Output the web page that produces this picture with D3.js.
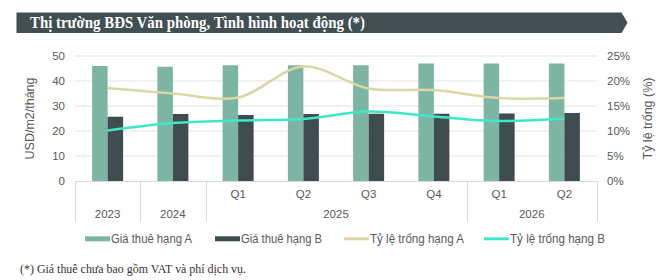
<!DOCTYPE html>
<html><head><meta charset="utf-8">
<script src="https://cdn.jsdelivr.net/npm/d3@7"></script>
<style>body{margin:0;background:#fff}svg{display:block}</style>
</head><body>
<svg id="c" width="669" height="280"></svg>
<script>
const quarters = ["", "", "Q1", "Q2", "Q3", "Q4", "Q1", "Q2"];
const years = [{label:"2023", from:0, to:0},{label:"2024", from:1, to:1},{label:"2025", from:2, to:5},{label:"2026", from:6, to:7}];
const rentA = [46.0, 45.7, 46.3, 46.3, 46.3, 47.0, 47.0, 47.0];
const rentB = [25.7, 26.8, 26.4, 26.8, 26.9, 26.9, 27.0, 27.2];
const vacA = [18.6, 17.5, 16.7, 22.9, 18.5, 18.2, 16.6, 16.6];
const vacB = [10.1, 11.6, 12.1, 12.4, 13.9, 12.9, 12.0, 12.5];
const leftTicks = [0,10,20,30,40,50];
const rightTicks = [0,5,10,15,20,25];
const seriesNames = ["Giá thuê hạng A","Giá thuê hạng B","Tỷ lệ trống hạng A","Tỷ lệ trống hạng B"];
const colors = {A:"#7db5a4", B:"#3f4d50", lA:"#dcd6a4", lB:"#3de8c8"};

const svg = d3.select("#c");
const M = {l:75, r:597, t:56, b:181};
const idx = d3.range(quarters.length);
const x = d3.scaleBand().domain(idx).range([M.l, M.r]).paddingInner(0).paddingOuter(0);
const yL = d3.scaleLinear().domain([0,50]).range([M.b, M.t]);
const yR = d3.scaleLinear().domain([0,25]).range([M.b, M.t]);
const axisFont = "Liberation Sans, Arial, sans-serif";
const gray = "#595959";

// Title banner
const bx0=16.5, bx1=621.5, by0=12.5, by1=33;
svg.append("polygon").attr("points",`${bx0},${by0} ${bx1},${by0} ${bx1+6},${(by0+by1)/2} ${bx1},${by1} ${bx0},${by1}`)
  .attr("fill","#404f51");
svg.append("text").attr("x",30).attr("y",27.5).attr("fill","#fff")
  .attr("font-family","Liberation Serif, Times New Roman, serif").attr("font-weight","bold").attr("font-size",16)
  .attr("textLength",335).attr("lengthAdjust","spacingAndGlyphs")
  .text("Thị trường BĐS Văn phòng, Tình hình hoạt động (*)");

// gridlines
svg.append("g").selectAll("line").data(leftTicks.filter(d=>d>0)).join("line")
  .attr("x1",M.l).attr("x2",M.r).attr("y1",d=>yL(d)).attr("y2",d=>yL(d))
  .attr("stroke","#e3e3e3").attr("stroke-width",1);

// left axis
const gL = svg.append("g").attr("transform",`translate(${M.l-10},0)`)
  .call(d3.axisLeft(yL).tickValues(leftTicks).tickSize(0).tickPadding(0));
gL.select(".domain").remove();
gL.selectAll("text").attr("font-family",axisFont).attr("font-size",11.5).attr("fill",gray);

const gR = svg.append("g").attr("transform",`translate(${M.r+10},0)`)
  .call(d3.axisRight(yR).tickValues(rightTicks).tickFormat(d=>d+"%").tickSize(0).tickPadding(0));
gR.select(".domain").remove();
gR.selectAll("text").attr("font-family",axisFont).attr("font-size",11.5).attr("fill",gray);

svg.append("text").attr("transform",`translate(34,${(M.t+M.b)/2}) rotate(-90)`).attr("text-anchor","middle")
  .attr("font-family",axisFont).attr("font-size",12.5).attr("fill",gray).text("USD/m2/tháng");
svg.append("text").attr("transform",`translate(652,${(M.t+M.b)/2}) rotate(-90)`).attr("text-anchor","middle")
  .attr("font-family",axisFont).attr("font-size",12.5).attr("fill",gray).text("Tỷ lệ trống (%)");

// bars
const bw = 15.5;
svg.append("g").selectAll("rect").data(rentA).join("rect")
  .attr("x",(d,i)=>x(i)+x.bandwidth()/2-bw).attr("width",bw)
  .attr("y",d=>yL(d)).attr("height",d=>yL(0)-yL(d)).attr("fill",colors.A);
svg.append("g").selectAll("rect").data(rentB).join("rect")
  .attr("x",(d,i)=>x(i)+x.bandwidth()/2).attr("width",bw)
  .attr("y",d=>yL(d)).attr("height",d=>yL(0)-yL(d)).attr("fill",colors.B);

// lines
const line = d3.line().x((d,i)=>x(i)+x.bandwidth()/2).y(d=>yR(d)).curve(d3.curveCatmullRom.alpha(0.5));
svg.append("path").attr("d",line(vacA)).attr("fill","none").attr("stroke",colors.lA).attr("stroke-width",2.5);
svg.append("path").attr("d",line(vacB)).attr("fill","none").attr("stroke",colors.lB).attr("stroke-width",2.5);

// x axis
const axisCol = "#d9d9d9";
svg.append("line").attr("x1",M.l).attr("x2",M.r).attr("y1",M.b+0.5).attr("y2",M.b+0.5).attr("stroke",axisCol);
const seps = [0];
years.forEach(y=>seps.push(y.to+1));
svg.append("g").selectAll("line").data(seps).join("line")
  .attr("x1",d=>Math.round(d<quarters.length?x(d):M.r)+0.5).attr("x2",d=>Math.round(d<quarters.length?x(d):M.r)+0.5)
  .attr("y1",M.b).attr("y2",222).attr("stroke",axisCol);
svg.append("g").selectAll("text").data(quarters).join("text")
  .attr("x",(d,i)=>x(i)+x.bandwidth()/2).attr("y",198).attr("text-anchor","middle")
  .attr("font-family",axisFont).attr("font-size",11.5).attr("fill",gray).text(d=>d);
svg.append("g").selectAll("text").data(years).join("text")
  .attr("x",d=>(x(d.from)+x(d.to)+x.bandwidth())/2).attr("y",218).attr("text-anchor","middle")
  .attr("font-family",axisFont).attr("font-size",11.5).attr("fill",gray).text(d=>d.label);

// legend
const leg = [
  {n:seriesNames[0], t:"rect", c:colors.A, x:85, w:81},
  {n:seriesNames[1], t:"rect", c:colors.B, x:215, w:81},
  {n:seriesNames[2], t:"line", c:colors.lA, x:344, w:94},
  {n:seriesNames[3], t:"line", c:colors.lB, x:484, w:95}
];
const ly = 238.8;
leg.forEach(d=>{
  if(d.t==="rect"){
    svg.append("rect").attr("x",d.x).attr("y",ly-2.5).attr("width",25).attr("height",5).attr("fill",d.c);
  } else {
    svg.append("line").attr("x1",d.x).attr("x2",d.x+25).attr("y1",ly).attr("y2",ly).attr("stroke",d.c).attr("stroke-width",3);
  }
  svg.append("text").attr("x",d.x+26).attr("y",ly+4.2).attr("font-family",axisFont).attr("font-size",12.5).attr("fill",gray)
    .attr("textLength",d.w).attr("lengthAdjust","spacingAndGlyphs").text(d.n);
});

svg.append("text").attr("x",20).attr("y",272.5).attr("font-family","Liberation Serif, Times New Roman, serif")
  .attr("font-size",12).attr("fill","#333").attr("textLength",226).attr("lengthAdjust","spacingAndGlyphs")
  .text("(*) Giá thuê chưa bao gồm VAT và phí dịch vụ.");
</script>
</body></html>
